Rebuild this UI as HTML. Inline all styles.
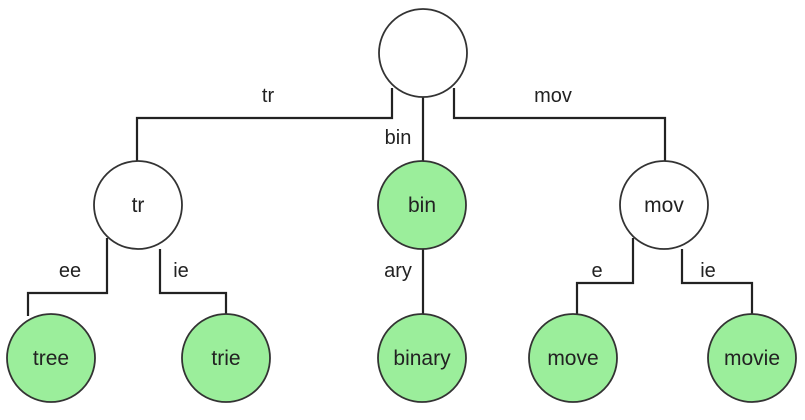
<!DOCTYPE html>
<html><head><meta charset="utf-8"><style>
html,body{margin:0;padding:0;background:#fff;}
svg{display:block;font-family:"Liberation Sans",sans-serif;}
</style></head><body>
<svg width="805" height="420" viewBox="0 0 805 420">
<g id="edges" fill="none" stroke="#222" stroke-width="2.2"></g>
<g id="nodes"></g>
<g id="labels" font-size="20" fill="#222"></g>
</svg>
<script>
const nodeNames = ["root","tr","bin","mov","tree","trie","binary","move","movie"];
const nodeText = ["","tr","bin","mov","tree","trie","binary","move","movie"];
const nodeTerminal = [false,false,true,false,true,true,true,true,true];
const nodeCx = [423,138,422,664,51,226,422,573,752];
const nodeCy = [53,205,205,205,358,358,358,358,358];
const edgeLabels = ["tr","bin","mov","ee","ie","ary","e","ie"];
const edgePaths = [
 "M392,88 V118 H137 V161",
 "M423,97 V161",
 "M454,88 V118 H665 V161",
 "M107,238 V293 H28 V316",
 "M160,249 V293 H226 V314",
 "M423,249 V314",
 "M633,238 V283 H577 V316",
 "M682,249 V283 H752 V314"];
const labelX = [268,398,553,70,181,398,597,708];
const labelY = [102,144,102,277,277,277,277,277];
const labelAnchor = ["middle","middle","middle","middle","middle","middle","middle","middle"];
const R = 44;
const ns="http://www.w3.org/2000/svg";
const eg=document.getElementById('edges'), ng=document.getElementById('nodes'), lg=document.getElementById('labels');
edgePaths.forEach((d,i)=>{
  const p=document.createElementNS(ns,'path');p.setAttribute('d',d);
  
  
  eg.appendChild(p);
  const t=document.createElementNS(ns,'text');t.setAttribute('x',labelX[i]);t.setAttribute('y',labelY[i]);
  t.setAttribute('text-anchor',labelAnchor[i]);t.textContent=edgeLabels[i];
  
  
  lg.appendChild(t);
});
nodeNames.forEach((n,i)=>{
  const g=document.createElementNS(ns,'g');
  
  
  const c=document.createElementNS(ns,'circle');
  c.setAttribute('cx',nodeCx[i]);c.setAttribute('cy',nodeCy[i]);c.setAttribute('r',R);
  c.setAttribute('fill',nodeTerminal[i]?'#9bee9b':'#fff');c.setAttribute('stroke','#333');c.setAttribute('stroke-width','1.8');
  g.appendChild(c);
  if(nodeText[i]){
    const t=document.createElementNS(ns,'text');t.setAttribute('x',nodeCx[i]);t.setAttribute('y',nodeCy[i]+7);
    t.setAttribute('text-anchor','middle');t.setAttribute('font-size','21');t.setAttribute('fill','#222');
    t.textContent=nodeText[i];g.appendChild(t);
  }
  ng.appendChild(g);
});
</script>
</body></html>
